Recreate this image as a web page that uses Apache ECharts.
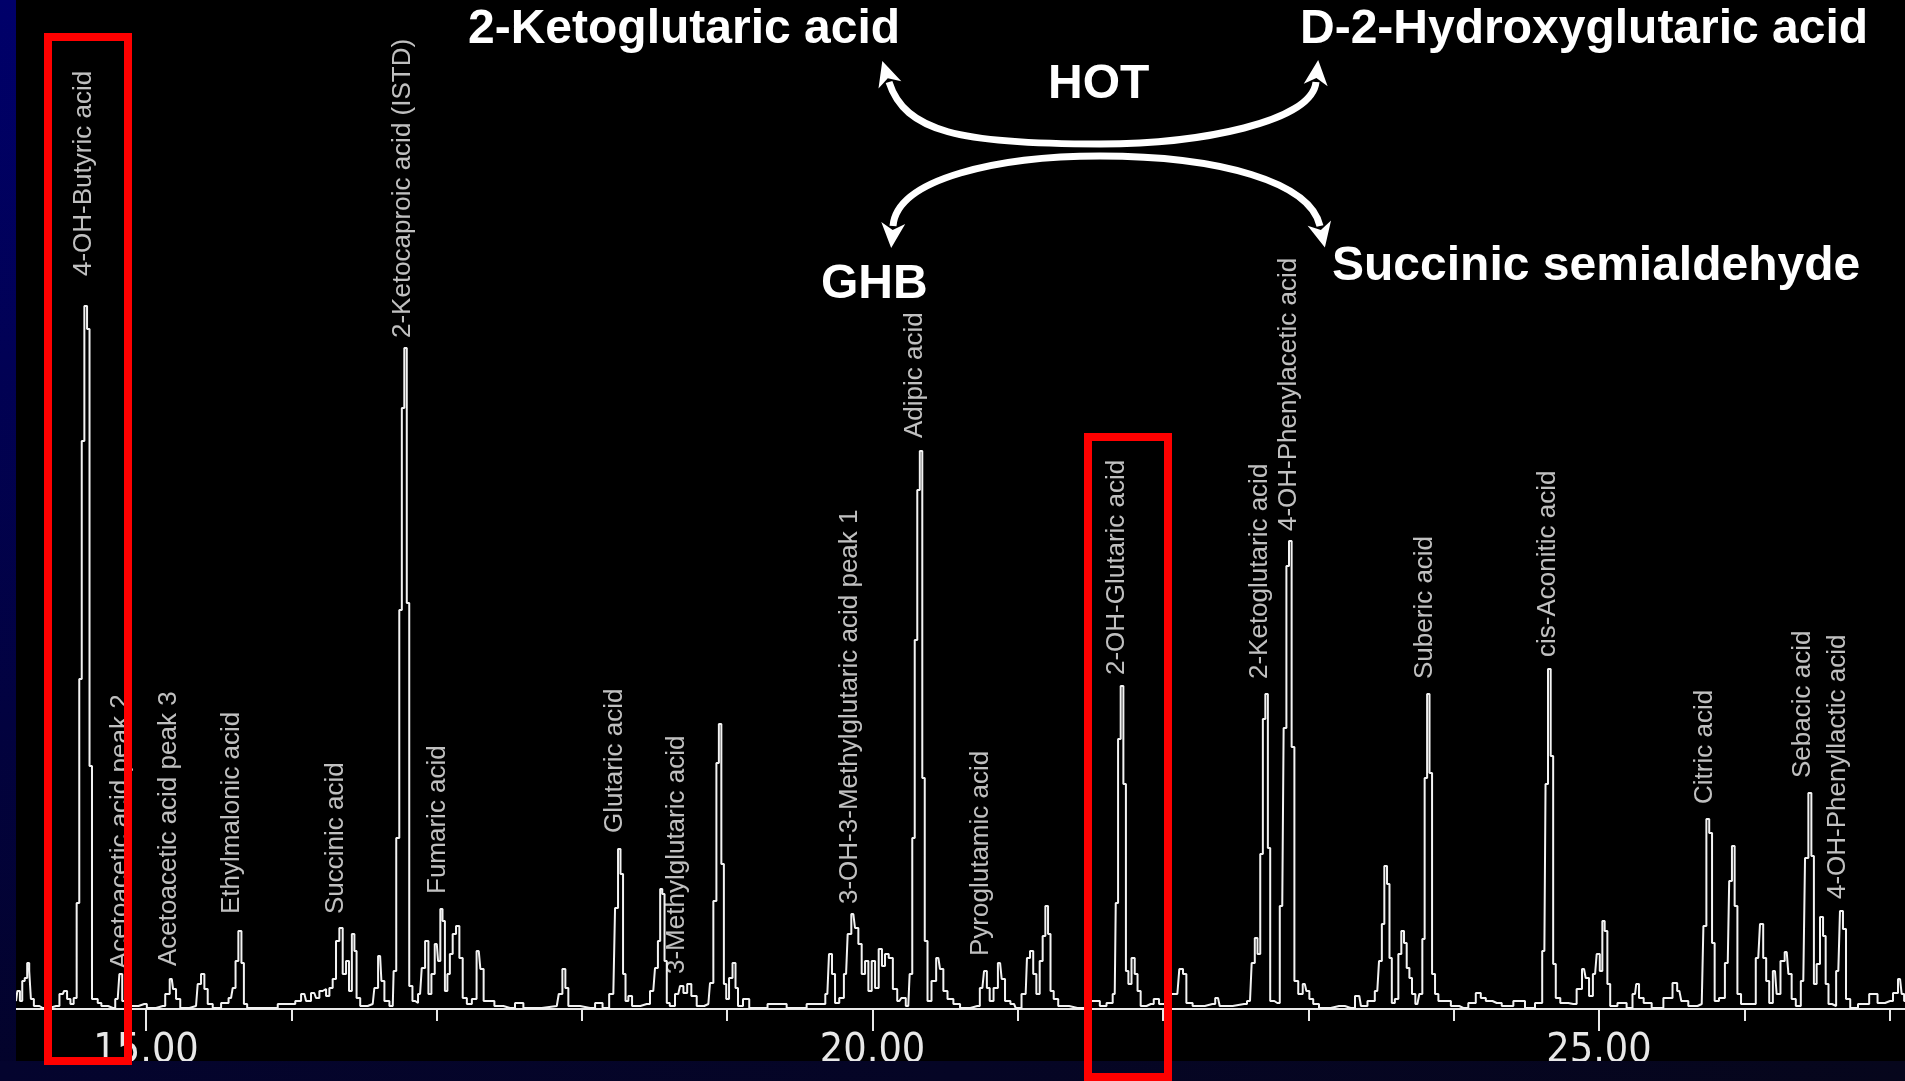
<!DOCTYPE html>
<html>
<head>
<meta charset="utf-8">
<title>Organic acid chromatogram</title>
<script src="https://cdn.jsdelivr.net/npm/echarts@6.0.0/dist/echarts.min.js"></script>
<style>
  html, body { margin: 0; padding: 0; background: #000; }
  #chart { width: 1905px; height: 1081px; }
</style>
</head>
<body>
<div id="chart"></div>
<script>
// [retention time (min), detector response]
const trace = [
  [14.105, 8], [14.124, 18], [14.140, 8], [14.156, 28], [14.174, 31], [14.190, 46], [14.202, 38], [14.213, 10],
  [14.243, 3], [14.289, 1], [14.381, 3], [14.427, 15], [14.445, 18], [14.468, 10], [14.491, 5], [14.513, 11],
  [14.532, 106], [14.549, 330], [14.566, 568], [14.585, 703], [14.603, 680], [14.619, 243], [14.637, 10],
  [14.656, 10], [14.679, 6], [14.706, 3], [14.771, 1], [14.805, 10], [14.828, 35], [14.844, 8], [14.908, 3],
  [14.988, 5], [15.023, 1], [15.115, 3], [15.149, 15], [15.177, 30], [15.195, 20], [15.218, 10], [15.253, 1],
  [15.344, 3], [15.367, 25], [15.390, 35], [15.413, 20], [15.436, 5], [15.482, 1], [15.551, 6], [15.585, 11],
  [15.608, 21], [15.624, 48], [15.647, 78], [15.666, 46], [15.681, 5], [15.711, 1], [15.803, 1], [16.010, 5],
  [16.044, 8], [16.090, 15], [16.113, 8], [16.158, 16], [16.182, 11], [16.204, 18], [16.227, 20], [16.251, 13],
  [16.273, 21], [16.296, 30], [16.319, 68], [16.342, 81], [16.365, 35], [16.388, 48], [16.406, 18], [16.427, 75],
  [16.441, 58], [16.457, 11], [16.491, 3], [16.560, 5], [16.583, 21], [16.611, 53], [16.629, 28], [16.652, 8],
  [16.698, 3], [16.710, 38], [16.734, 171], [16.752, 399], [16.769, 601], [16.786, 661], [16.803, 406], [16.820, 23],
  [16.847, 8], [16.858, 6], [16.886, 15], [16.909, 41], [16.932, 68], [16.955, 15], [16.973, 35], [17.001, 65],
  [17.019, 48], [17.032, 100], [17.049, 88], [17.065, 18], [17.083, 35], [17.099, 55], [17.122, 75], [17.145, 83],
  [17.168, 51], [17.191, 11], [17.225, 5], [17.260, 10], [17.290, 58], [17.312, 40], [17.335, 8], [17.381, 8],
  [17.414, 3], [17.505, 1], [17.574, 6], [17.620, 1], [17.827, 3], [17.854, 15], [17.877, 40], [17.895, 21],
  [17.918, 3], [18.056, 1], [18.125, 6], [18.159, 1], [18.216, 15], [18.240, 101], [18.257, 160], [18.274, 135],
  [18.292, 35], [18.308, 8], [18.331, 13], [18.359, 3], [18.446, 5], [18.491, 18], [18.515, 41], [18.531, 68],
  [18.546, 120], [18.560, 115], [18.577, 48], [18.591, 6], [18.618, 3], [18.663, 15], [18.687, 23], [18.710, 16],
  [18.739, 25], [18.767, 13], [18.813, 3], [18.870, 5], [18.893, 26], [18.916, 108], [18.935, 246], [18.950, 285],
  [18.969, 145], [18.985, 25], [19.001, 10], [19.024, 31], [19.049, 46], [19.065, 21], [19.083, 3], [19.134, 10],
  [19.169, 1], [19.386, 5], [19.432, 1], [19.661, 5], [19.689, 15], [19.712, 55], [19.730, 35], [19.754, 6],
  [19.788, 11], [19.818, 35], [19.840, 75], [19.868, 95], [19.891, 81], [19.914, 65], [19.937, 35], [19.960, 48],
  [19.983, 18], [20.006, 48], [20.029, 21], [20.056, 60], [20.074, 43], [20.098, 55], [20.125, 51], [20.155, 20],
  [20.185, 8], [20.212, 11], [20.246, 3], [20.265, 35], [20.282, 171], [20.299, 369], [20.317, 519], [20.334, 558],
  [20.351, 231], [20.368, 68], [20.389, 8], [20.423, 28], [20.453, 51], [20.476, 40], [20.499, 18], [20.533, 10],
  [20.580, 5], [20.625, 1], [20.721, 3], [20.756, 21], [20.779, 38], [20.795, 21], [20.818, 8], [20.848, 21],
  [20.878, 46], [20.900, 30], [20.924, 8], [20.974, 5], [20.997, 1], [21.054, 15], [21.072, 51], [21.096, 58],
  [21.116, 35], [21.139, 15], [21.162, 48], [21.180, 73], [21.199, 103], [21.217, 75], [21.233, 18], [21.261, 10],
  [21.295, 3], [21.410, 1], [21.547, 8], [21.582, 3], [21.639, 6], [21.667, 15], [21.681, 106], [21.699, 270],
  [21.717, 323], [21.736, 225], [21.752, 38], [21.770, 25], [21.795, 51], [21.814, 35], [21.834, 18], [21.857, 3],
  [21.915, 5], [21.956, 10], [21.988, 5], [22.098, 15], [22.125, 40], [22.149, 35], [22.171, 6], [22.235, 3],
  [22.339, 5], [22.378, 11], [22.401, 3], [22.557, 5], [22.598, 8], [22.621, 46], [22.641, 71], [22.658, 55],
  [22.679, 155], [22.694, 290], [22.713, 315], [22.729, 161], [22.745, 8], [22.786, 6], [22.820, 103], [22.839, 281],
  [22.858, 443], [22.875, 468], [22.894, 262], [22.913, 28], [22.947, 15], [22.975, 25], [22.997, 18], [23.016, 10],
  [23.050, 5], [23.096, 1], [23.211, 3], [23.291, 1], [23.350, 13], [23.373, 3], [23.440, 8], [23.474, 18],
  [23.498, 48], [23.513, 85], [23.532, 143], [23.550, 125], [23.566, 51], [23.582, 6], [23.608, 10], [23.630, 55],
  [23.649, 78], [23.667, 66], [23.686, 41], [23.704, 31], [23.722, 15], [23.750, 5], [23.777, 15], [23.791, 70],
  [23.809, 231], [23.825, 315], [23.842, 236], [23.860, 35], [23.883, 15], [23.906, 8], [23.952, 8], [24.009, 3],
  [24.066, 1], [24.135, 6], [24.169, 16], [24.204, 11], [24.238, 8], [24.296, 6], [24.365, 3], [24.456, 8],
  [24.525, 1], [24.594, 6], [24.624, 58], [24.640, 225], [24.658, 340], [24.677, 253], [24.692, 45], [24.713, 11],
  [24.754, 6], [24.823, 5], [24.869, 20], [24.897, 40], [24.920, 31], [24.943, 13], [24.973, 35], [24.995, 55],
  [25.016, 38], [25.030, 88], [25.048, 78], [25.067, 25], [25.087, 3], [25.167, 6], [25.213, 1], [25.248, 15],
  [25.264, 25], [25.287, 11], [25.328, 6], [25.397, 1], [25.489, 11], [25.523, 26], [25.553, 18], [25.580, 8],
  [25.649, 3], [25.707, 5], [25.730, 83], [25.748, 190], [25.769, 176], [25.787, 66], [25.805, 8], [25.847, 11],
  [25.886, 46], [25.906, 128], [25.924, 163], [25.943, 103], [25.962, 15], [25.993, 5], [26.062, 5], [26.096, 51],
  [26.120, 85], [26.140, 51], [26.161, 28], [26.182, 6], [26.211, 38], [26.234, 15], [26.264, 48], [26.292, 57],
  [26.315, 35], [26.337, 10], [26.372, 3], [26.406, 28], [26.430, 151], [26.452, 216], [26.471, 153], [26.487, 25],
  [26.509, 45], [26.533, 92], [26.551, 73], [26.569, 25], [26.590, 5], [26.617, 3], [26.647, 38], [26.670, 98],
  [26.688, 80], [26.712, 10], [26.746, 1], [26.819, 5], [26.900, 15], [26.934, 6], [27.003, 8], [27.044, 16],
  [27.072, 30], [27.094, 15], [27.106, 8]
];

// peak annotations printed by the instrument software
const peakNames = [
  '4-OH-Butyric acid', 'Acetoacetic acid peak 2', 'Acetoacetic acid peak 3', 'Ethylmalonic acid',
  'Succinic acid', '2-Ketocaproic acid (ISTD)', 'Fumaric acid', 'Glutaric acid', '3-Methylglutaric acid',
  '3-OH-3-Methylglutaric acid peak 1', 'Adipic acid', 'Pyroglutamic acid', '2-OH-Glutaric acid',
  '2-Ketoglutaric acid', '4-OH-Phenylacetic acid', 'Suberic acid', 'cis-Aconitic acid', 'Citric acid',
  'Sebacic acid', '4-OH-Phenyllactic acid'
];
const peakRt = [
  14.570, 14.824, 15.155, 15.592, 16.304, 16.765, 17.006, 18.224, 18.651, 19.842,
  20.289, 20.743, 21.679, 22.664, 22.863, 23.799, 24.646, 25.726, 26.401, 26.641
];
const peakLabelBase = [
  733, 40, 43, 95, 95, 671, 115, 176, 35, 105,
  571, 53, 334, 330, 478, 330, 352, 205, 231, 110
];

const majorTicks = [15, 20, 25];
const minorTicks = [16, 17, 18, 19, 21, 22, 23, 24, 26, 27];

// pathway sketch drawn over the chromatogram
const pathwayTexts = [
  { text: '2-Ketoglutaric acid', x: 468, y: 6 },
  { text: 'D-2-Hydroxyglutaric acid', x: 1300, y: 6 },
  { text: 'HOT', x: 1048, y: 61 },
  { text: 'GHB', x: 821, y: 261 },
  { text: 'Succinic semialdehyde', x: 1332, y: 243 }
];
const arrowCurves = [
  [[1100, 144], [960, 144], [905, 132], [889, 82]],
  [[1100, 144], [1200, 144], [1312, 122], [1316, 82]],
  [[1100, 156], [1000, 156], [897, 178], [893, 226]],
  [[1100, 156], [1220, 156], [1310, 182], [1320, 226]]
];
const highlightBoxes = [
  { x: 48, y: 37, w: 80, h: 1024 },
  { x: 1088, y: 437, w: 80, h: 640 }
];

function arrowParts(c) {
  const [p0, p1, p2, p3] = c;
  const dx = p3[0] - p2[0], dy = p3[1] - p2[1];
  const len = Math.hypot(dx, dy);
  const ux = dx / len, uy = dy / len, nx = -uy, ny = ux;
  const tip = [p3[0] + ux * 22, p3[1] + uy * 22];
  const a = [p3[0] - ux * 3 + nx * 12, p3[1] - uy * 3 + ny * 12];
  const b = [p3[0] - ux * 3 - nx * 12, p3[1] - uy * 3 - ny * 12];
  const notch = [p3[0] + ux * 4, p3[1] + uy * 4];
  return [
    {
      type: 'bezierCurve', z: 100,
      shape: { x1: p0[0], y1: p0[1], cpx1: p1[0], cpy1: p1[1], cpx2: p2[0], cpy2: p2[1], x2: p3[0], y2: p3[1] },
      style: { stroke: '#fff', lineWidth: 7, fill: null }
    },
    { type: 'polygon', z: 100, shape: { points: [tip, a, notch, b] }, style: { fill: '#fff' } }
  ];
}

const graphics = [
  {
    type: 'rect', z: 90, shape: { x: 0, y: 0, width: 16, height: 1081 },
    style: { fill: { type: 'linear', x: 0, y: 0, x2: 0, y2: 1,
      colorStops: [{ offset: 0, color: '#00006a' }, { offset: 1, color: '#03032a' }] } }
  },
  {
    type: 'rect', z: 90, shape: { x: 0, y: 1061, width: 1905, height: 20 },
    style: { fill: { type: 'linear', x: 0, y: 0, x2: 1, y2: 0,
      colorStops: [{ offset: 0, color: '#04042e' }, { offset: 1, color: '#06061c' }] } }
  }
];
highlightBoxes.forEach(b => {
  graphics.push({
    type: 'rect', z: 110, shape: { x: b.x, y: b.y, width: b.w, height: b.h },
    style: { fill: null, stroke: '#ff0000', lineWidth: 8 }
  });
});
pathwayTexts.forEach(t => {
  graphics.push({
    type: 'text', z: 100, x: t.x, y: t.y,
    style: { text: t.text, fill: '#fff', align: 'left', verticalAlign: 'top',
      font: 'bold 48px "Liberation Sans", Arial, sans-serif' }
  });
});
arrowCurves.forEach(c => graphics.push(...arrowParts(c)));

const chart = echarts.init(document.getElementById('chart'));

let option = {
  backgroundColor: '#000',
  animation: false,
  grid: { left: 16, right: 0, top: 0, bottom: 72 },
  xAxis: [{
    type: 'value',
    min: 14.105,
    max: 27.106,
    position: 'bottom',
    splitLine: { show: false },
    axisLine: { show: true, lineStyle: { color: '#e8e8e8', width: 2 } },
    axisTick: { show: true, customValues: majorTicks, length: 22, lineStyle: { color: '#e8e8e8', width: 2 } },
    axisLabel: {
      customValues: majorTicks,
      margin: 22,
      color: '#e8e8e8',
      fontSize: 41,
      fontFamily: '"Liberation Sans Narrow", "DejaVu Sans Condensed", sans-serif',
      formatter: v => v.toFixed(2)
    }
  }, {
    type: 'value',
    min: 14.105,
    max: 27.106,
    position: 'bottom',
    splitLine: { show: false },
    axisLine: { show: false },
    axisTick: { show: true, customValues: minorTicks, length: 12, lineStyle: { color: '#e8e8e8', width: 2 } },
    axisLabel: { show: false }
  }],
  yAxis: { type: 'value', min: 0, max: 1009, show: false },
  graphic: { elements: graphics },
  series: [{
    type: 'line',
    xAxisIndex: 0,
    data: trace,
    step: 'middle',
    symbol: 'none',
    lineStyle: { color: '#f2f2f2', width: 2 },
    silent: true
  }, {
    type: 'scatter',
    xAxisIndex: 0,
    data: peakNames.map((n, i) => ({ name: n, value: [peakRt[i], peakLabelBase[i]] })),
    symbolSize: 1,
    itemStyle: { color: 'rgba(0,0,0,0)' },
    silent: true,
    label: {
      show: true,
      position: 'inside',
      rotate: 90,
      align: 'left',
      verticalAlign: 'middle',
      formatter: '{b}',
      color: '#f0f0f0',
      fontSize: 26,
      fontFamily: '"Liberation Sans", Arial, sans-serif'
    }
  }]
};

chart.setOption(option);
</script>
</body>
</html>
